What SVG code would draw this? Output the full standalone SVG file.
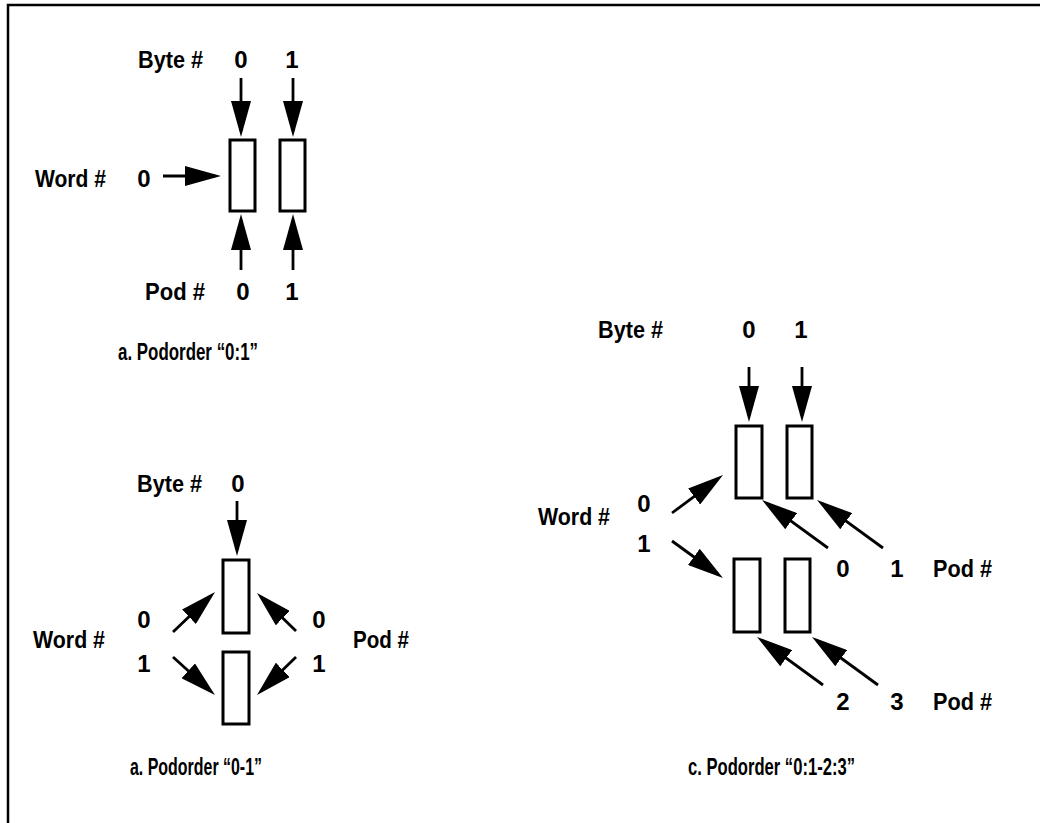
<svg xmlns="http://www.w3.org/2000/svg" width="1040" height="823" viewBox="0 0 1040 823">
  <style>
    .lbl { font-family: "Liberation Sans", Arial, sans-serif; font-weight: bold; font-size: 24px; fill: #000; }
    .cell { fill: #fff; stroke: #000; stroke-width: 3; }
    .arr { stroke: #000; stroke-width: 2.8; fill: none; marker-end: url(#head); }
    .frame { fill: none; stroke: #000; stroke-width: 2.5; }
  </style>
  <defs>
    <marker id="head" viewBox="0 0 36 20" refX="30" refY="10" markerWidth="36" markerHeight="20" markerUnits="userSpaceOnUse" orient="auto">
      <path d="M0,0 L36,10 L0,20 Z" fill="#000"/>
    </marker>
  </defs>

  <rect width="1040" height="823" fill="#fff"/>
  <path class="frame" d="M8,823 V5 H1040"/>

  <!-- Panel a: Podorder 0:1 -->
  <g id="panel-a-labels">
    <text class="lbl" x="138" y="68" textLength="65" lengthAdjust="spacingAndGlyphs">Byte #</text>
    <text class="lbl" x="241" y="68" text-anchor="middle">0</text>
    <text class="lbl" x="292" y="68" text-anchor="middle">1</text>
    <text class="lbl" x="35" y="187" textLength="71" lengthAdjust="spacingAndGlyphs">Word #</text>
    <text class="lbl" x="144" y="187" text-anchor="middle">0</text>
    <text class="lbl" x="145" y="300" textLength="60" lengthAdjust="spacingAndGlyphs">Pod #</text>
    <text class="lbl" x="243" y="300" text-anchor="middle">0</text>
    <text class="lbl" x="292" y="300" text-anchor="middle">1</text>
    <text class="lbl" x="118" y="360" textLength="140" lengthAdjust="spacingAndGlyphs">a. Podorder “0:1”</text>
  </g>
  <g id="a-byte0"><rect class="cell" x="230" y="140" width="25" height="71"/></g>
  <g id="a-byte1"><rect class="cell" x="280" y="140" width="25" height="71"/></g>

  <!-- Panel b: Podorder 0-1 -->
  <g id="panel-b-labels">
    <text class="lbl" x="137" y="492" textLength="65" lengthAdjust="spacingAndGlyphs">Byte #</text>
    <text class="lbl" x="238" y="492" text-anchor="middle">0</text>
    <text class="lbl" x="33" y="648" textLength="72" lengthAdjust="spacingAndGlyphs">Word #</text>
    <text class="lbl" x="144" y="628" text-anchor="middle">0</text>
    <text class="lbl" x="144" y="672" text-anchor="middle">1</text>
    <text class="lbl" x="319" y="628" text-anchor="middle">0</text>
    <text class="lbl" x="319" y="672" text-anchor="middle">1</text>
    <text class="lbl" x="353" y="648" textLength="56" lengthAdjust="spacingAndGlyphs">Pod #</text>
    <text class="lbl" x="130" y="775" textLength="132" lengthAdjust="spacingAndGlyphs">a. Podorder “0-1”</text>
  </g>
  <g id="b-word0"><rect class="cell" x="223" y="560" width="26" height="73"/></g>
  <g id="b-word1"><rect class="cell" x="223" y="652" width="26" height="72"/></g>

  <!-- Panel c: Podorder 0:1-2:3 -->
  <g id="panel-c-labels">
    <text class="lbl" x="598" y="338" textLength="65" lengthAdjust="spacingAndGlyphs">Byte #</text>
    <text class="lbl" x="749" y="338" text-anchor="middle">0</text>
    <text class="lbl" x="801" y="338" text-anchor="middle">1</text>
    <text class="lbl" x="538" y="525" textLength="72" lengthAdjust="spacingAndGlyphs">Word #</text>
    <text class="lbl" x="644" y="512" text-anchor="middle">0</text>
    <text class="lbl" x="644" y="552" text-anchor="middle">1</text>
    <text class="lbl" x="843" y="577" text-anchor="middle">0</text>
    <text class="lbl" x="897" y="577" text-anchor="middle">1</text>
    <text class="lbl" x="933" y="577" textLength="59" lengthAdjust="spacingAndGlyphs">Pod #</text>
    <text class="lbl" x="843" y="710" text-anchor="middle">2</text>
    <text class="lbl" x="897" y="710" text-anchor="middle">3</text>
    <text class="lbl" x="933" y="710" textLength="59" lengthAdjust="spacingAndGlyphs">Pod #</text>
    <text class="lbl" x="688" y="775" textLength="167" lengthAdjust="spacingAndGlyphs">c. Podorder “0:1-2:3”</text>
  </g>
  <g id="c-w0-b0"><rect class="cell" x="736" y="426" width="26" height="72"/></g>
  <g id="c-w0-b1"><rect class="cell" x="787" y="426" width="25" height="72"/></g>
  <g id="c-w1-b0"><rect class="cell" x="734" y="559" width="26" height="73"/></g>
  <g id="c-w1-b1"><rect class="cell" x="785" y="559" width="25" height="73"/></g>

  <g id="connectors">
    <!-- panel a -->
    <line class="arr" x1="241" y1="78" x2="241" y2="131"/>
    <line class="arr" x1="293" y1="78" x2="293" y2="131"/>
    <line class="arr" x1="163" y1="176" x2="215" y2="176"/>
    <line class="arr" x1="241" y1="270" x2="241" y2="220"/>
    <line class="arr" x1="293" y1="270" x2="293" y2="220"/>
    <!-- panel b -->
    <line class="arr" x1="237" y1="501" x2="237" y2="550"/>
    <line class="arr" x1="173" y1="632" x2="210.7" y2="596.1"/>
    <line class="arr" x1="173" y1="657" x2="210.5" y2="691"/>
    <line class="arr" x1="296" y1="631" x2="261.3" y2="597.2"/>
    <line class="arr" x1="296" y1="657" x2="261.3" y2="690.8"/>
    <!-- panel c -->
    <line class="arr" x1="749" y1="367" x2="749" y2="416"/>
    <line class="arr" x1="802" y1="367" x2="802" y2="416"/>
    <line class="arr" x1="672" y1="513" x2="718.2" y2="478.6"/>
    <line class="arr" x1="672" y1="541" x2="718.1" y2="574.5"/>
    <line class="arr" x1="828" y1="548" x2="766.9" y2="503.5"/>
    <line class="arr" x1="883" y1="548" x2="821.9" y2="503.5"/>
    <line class="arr" x1="823" y1="685" x2="761.9" y2="640.5"/>
    <line class="arr" x1="878" y1="685" x2="816.9" y2="640.5"/>
  </g>
</svg>
